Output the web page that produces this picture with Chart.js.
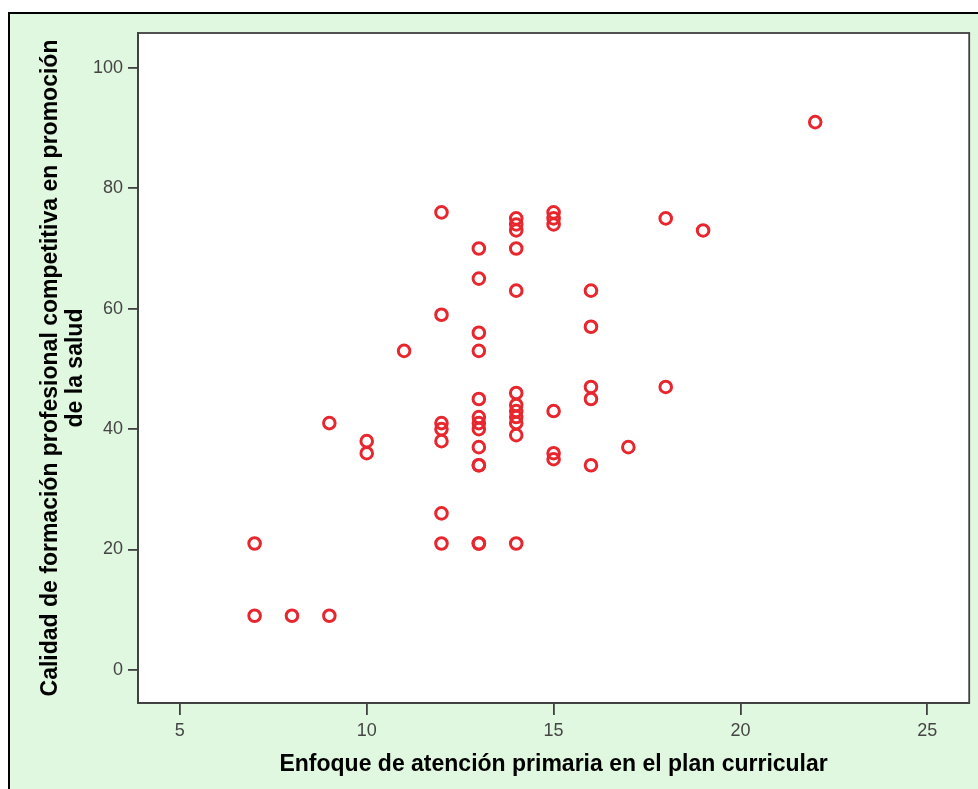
<!DOCTYPE html>
<html>
<head>
<meta charset="utf-8">
<script src="https://cdn.jsdelivr.net/npm/chart.js@4"></script>
<style>
  body { margin: 0; background: #ffffff; }
  #wrap { position: relative; width: 978px; height: 789px; overflow: hidden; }
  #frame {
    position: absolute; left: 8px; top: 12px; width: 980px; height: 790px;
    border-left: 2px solid #000; border-top: 2px solid #000;
    background: #e0f7e0;
  }
  #myChart { position: absolute; left: 0; top: 0; }
</style>
</head>
<body>
<div id="wrap">
  <div id="frame"></div>
  <canvas id="myChart" width="978" height="789"></canvas>
</div>
<script>
// Enfoque de atención primaria (x) vs Calidad de formación (y)
const enfoque = [
  7, 7,
  8,
  9, 9,
  10, 10,
  11,
  12, 12, 12, 12, 12, 12, 12,
  13, 13, 13, 13, 13, 13, 13, 13, 13, 13, 13, 13, 13,
  14, 14, 14, 14, 14, 14, 14, 14, 14, 14, 14, 14,
  15, 15, 15, 15, 15, 15,
  16, 16, 16, 16, 16,
  17,
  18, 18,
  19,
  22,
];
const calidad = [
  21, 9,
  9,
  9, 41,
  38, 36,
  53,
  76, 59, 41, 40, 38, 26, 21,
  70, 65, 56, 53, 45, 42, 41, 40, 37, 34, 34, 21, 21,
  75, 74, 73, 70, 63, 46, 44, 43, 42, 41, 39, 21,
  76, 75, 74, 43, 36, 35,
  63, 57, 47, 45, 34,
  37,
  75, 47,
  73,
  91,
];
const xTicks = [5, 10, 15, 20, 25];
const yTicks = [0, 20, 40, 60, 80, 100];

const xTitle = "Enfoque de atención primaria en el plan curricular";
const yTitle = ["Calidad de formación profesional competitiva en promoción", "de la salud"];

const points = enfoque.map((x, i) => ({ x: x, y: calidad[i] }));

// fondo blanco y marco del área de trazado
const plotBox = {
  id: "plotBox",
  beforeDraw(chart) {
    const a = chart.chartArea;
    chart.ctx.save();
    chart.ctx.fillStyle = "#ffffff";
    chart.ctx.fillRect(a.left, a.top, a.right - a.left, a.bottom - a.top);
    chart.ctx.restore();
  },
  afterDraw(chart) {
    const a = chart.chartArea;
    const c = chart.ctx;
    c.save();
    c.strokeStyle = "#404040";
    c.lineWidth = 1.8;
    c.strokeRect(a.left, a.top, a.right - a.left, a.bottom - a.top);
    c.restore();
  },
};

const tickFont = { family: "'Liberation Sans', Arial, sans-serif", size: 18 };
const titleFamily = "'Liberation Sans', Arial, sans-serif";

new Chart(document.getElementById("myChart"), {
  type: "scatter",
  data: {
    datasets: [
      {
        data: points,
        pointStyle: "circle",
        pointRadius: 5.8,
        pointHoverRadius: 5.8,
        pointBorderWidth: 3,
        borderColor: "#e8262e",
        backgroundColor: "rgba(0,0,0,0)",
      },
    ],
  },
  options: {
    responsive: false,
    animation: false,
    devicePixelRatio: 1,
    layout: { padding: { left: 0, top: 33, right: 8, bottom: 0 } },
    plugins: {
      legend: { display: false },
      tooltip: { enabled: false },
    },
    scales: {
      x: {
        type: "linear",
        min: 3.88,
        max: 26.12,
        afterBuildTicks: (s) => { s.ticks = xTicks.map((v) => ({ value: v })); },
        afterFit: (s) => { s.height = 86; },
        grid: { drawOnChartArea: false, drawTicks: true, tickLength: 12, color: "#404040", lineWidth: 1.8 },
        border: { display: true, color: "#404040", width: 1.8 },
        ticks: { font: tickFont, color: "#454545", padding: 5, maxRotation: 0 },
        title: {
          display: true,
          text: xTitle,
          color: "#000",
          font: { family: titleFamily, size: 23, weight: "bold" },
          padding: { top: 0, bottom: 11 },
        },
      },
      y: {
        type: "linear",
        min: -5.5,
        max: 105.8,
        afterBuildTicks: (s) => { s.ticks = yTicks.map((v) => ({ value: v })); },
        afterFit: (s) => { s.width = 138; },
        grid: { drawOnChartArea: false, drawTicks: true, tickLength: 10, color: "#404040", lineWidth: 1.8 },
        border: { display: true, color: "#404040", width: 1.8 },
        ticks: { font: tickFont, color: "#454545", padding: 5 },
        title: {
          display: true,
          text: yTitle,
          color: "#000",
          font: { family: titleFamily, size: 23, weight: "bold", lineHeight: 1.1 },
          padding: { top: 38, bottom: 0 },
        },
      },
    },
  },
  plugins: [plotBox],
});
</script>
</body>
</html>
